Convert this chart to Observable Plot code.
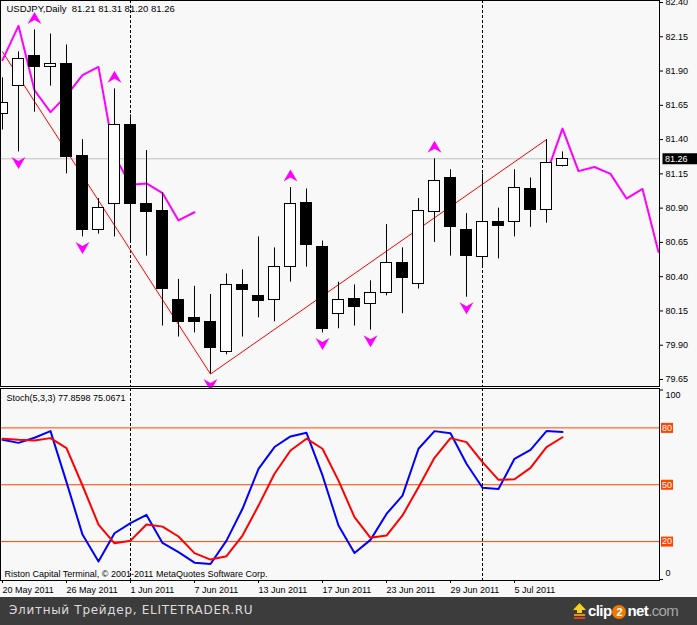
<!DOCTYPE html>
<html>
<head>
<meta charset="utf-8">
<script src="https://cdn.jsdelivr.net/npm/d3@7"></script>
<script src="https://cdn.jsdelivr.net/npm/@observablehq/plot@0.6"></script>
<style>
  html, body { margin: 0; padding: 0; background: #f8f8f8; }
  #wrap { position: relative; width: 697px; height: 625px; overflow: hidden; background: #f8f8f8; }
  #price, #stoch { display: block; }
  #footer { position: absolute; left: 0; top: 597px; width: 697px; height: 28px; background: #3c3c3c; }
  #ftext { position: absolute; left: 9px; top: 6px; color: #dcdcdc; font: 12px "DejaVu Sans", sans-serif; letter-spacing: 0.7px; white-space: nowrap; }
  #logo { position: absolute; left: 573px; top: 5px; font: bold 15px "Liberation Sans", Arial, sans-serif; color: #ffffff; letter-spacing: -0.6px; white-space: nowrap; }
  #logo svg { vertical-align: -3px; margin-right: 2px; }
  #two { display: inline-block; width: 14px; height: 14px; border-radius: 50%; background: #f07a00; text-align: center; line-height: 14px; font-size: 11px; letter-spacing: 0; margin: 0 1px; }
  #com { font-weight: normal; color: #a8a8a8; }
</style>
</head>
<body>
<div id="wrap">
  <div id="price"></div>
  <div id="stoch"></div>
  <div id="footer">
    <div id="ftext">Элитный Трейдер, ELITETRADER.RU</div>
    <div id="logo"><svg width="13" height="16" viewBox="0 0 13 16"><polygon points="6.5,0 13,7 9,7 9,10 4,10 4,7 0,7" fill="#f2d21b"/><rect x="1" y="11" width="11" height="2" fill="#f08a1a"/><rect x="1" y="14" width="11" height="2" fill="#e0401a"/></svg>clip<span id="two">2</span>net<span id="com">.com</span></div>
  </div>
</div>
<script>
// ---------- DATA ----------
const symbolName = "USDJPY";
const period = "Daily";
const dates = ["2011-05-20","2011-05-23","2011-05-24","2011-05-25","2011-05-26","2011-05-27","2011-05-30","2011-05-31",
  "2011-06-01","2011-06-02","2011-06-03","2011-06-06","2011-06-07","2011-06-08","2011-06-09","2011-06-10",
  "2011-06-13","2011-06-14","2011-06-15","2011-06-16","2011-06-17","2011-06-20","2011-06-21","2011-06-22",
  "2011-06-23","2011-06-24","2011-06-27","2011-06-28","2011-06-29","2011-06-30","2011-07-01","2011-07-04",
  "2011-07-05","2011-07-06","2011-07-07","2011-07-08"];
const opens  = [81.59,81.79,82.01,81.93,81.95,81.28,80.74,80.93,81.51,80.93,80.88,80.23,80.10,80.07,79.85,80.34,80.26,80.23,80.47,80.94,80.62,80.13,80.24,80.20,80.28,80.50,80.35,80.87,81.12,80.74,80.54,80.80,80.80,81.04,80.89,81.21];
const highs  = [81.85,82.04,82.20,82.17,82.09,81.40,80.97,81.77,81.58,81.32,81.01,80.38,80.33,80.27,80.42,80.45,80.69,80.61,81.05,81.04,80.66,80.36,80.34,80.37,80.78,80.61,80.97,81.26,81.18,80.86,81.15,80.90,81.18,81.12,81.40,81.31];
const lows   = [81.47,81.31,81.60,81.79,81.15,80.69,80.71,80.69,80.65,80.55,80.04,79.96,79.99,79.69,79.83,79.96,80.10,80.07,80.36,80.47,79.99,80.02,80.04,80.01,80.26,80.13,80.31,80.65,80.55,80.25,80.47,80.53,80.69,80.76,80.79,81.20];
const closes = [81.67,81.99,81.93,81.95,81.27,80.74,80.90,81.51,80.93,80.87,80.31,80.07,80.07,79.88,80.34,80.30,80.22,80.47,80.93,80.63,80.02,80.23,80.18,80.28,80.50,80.39,80.88,81.10,80.76,80.55,80.80,80.77,81.05,80.89,81.23,81.26];

// magenta indicator line (two visible segments, bar index -> value)
const magentaIdxA = [0,1,2,3,4,5,6,7,8,9,10,11,12];
const magentaValA = [81.98,82.23,81.76,81.60,81.72,81.87,81.93,81.28,81.07,81.08,81.01,80.81,80.87];
const magentaIdxB = [34,35,36,37,38,39,40,41];
const magentaValB = [81.15,81.48,81.17,81.20,81.15,80.97,81.04,80.58];

// red zigzag
const zigzagIdx = [0,13,34];
const zigzagVal = [82.04,79.69,81.40];

// fractal arrows (bar indices)
const upFractals = [2,7,18,27];
const downFractals = [1,5,13,20,23,29];

// period separators (bar indices: 1 Jun, 1 Jul)
const separators = [8,30];

// price axis ticks
const priceTicks = [82.40,82.15,81.90,81.65,81.40,81.15,80.90,80.65,80.40,80.15,79.90,79.65];

// stochastic (5,3,3)
const stochK = [73.7,72.1,74.8,78.3,51.4,23.7,9.5,24.4,29.7,34.1,19.3,14.4,8.9,8.2,20.5,37.3,58.4,69.9,75.5,77.4,54.9,28.5,14.0,20.9,34.6,44.3,69.0,78.3,77.2,61.1,48.4,47.8,63.7,68.4,78.3,77.8598];
const stochD = [74.3,73.7,73.4,74.6,69.3,49.6,29.0,19.1,20.5,29.0,27.9,22.7,13.9,10.5,12.3,23.2,39.0,55.8,68.1,74.3,69.0,52.2,32.9,22.0,23.2,33.8,48.7,64.2,74.6,72.5,61.9,52.6,52.9,58.9,69.9,75.0671];
const stochLevels = [80,50,20];

// date axis
const dateTickIdx = [0,4,8,12,16,20,24,28,32];
const dateTickLabels = ["20 May 2011","26 May 2011","1 Jun 2011","7 Jun 2011","13 Jun 2011","17 Jun 2011","23 Jun 2011","29 Jun 2011","5 Jul 2011"];

const copyright = "Riston Capital Terminal, © 2001-2011 MetaQuotes Software Corp.";

// ---------- TABLES ----------
const bars = dates.map((d, i) => ({i, date: d, open: opens[i], high: highs[i], low: lows[i], close: closes[i]}));
const magA = magentaIdxA.map((i, k) => ({i, v: magentaValA[k]}));
const magB = magentaIdxB.map((i, k) => ({i, v: magentaValB[k]}));
const zigzag = zigzagIdx.map((i, k) => ({i, v: zigzagVal[k]}));
const ups = upFractals.map(i => bars[i]);
const downs = downFractals.map(i => bars[i]);
const stoch = stochK.map((k, i) => ({i, k, d: stochD[i]}));
const dateTicks = dateTickIdx.map((i, k) => ({i, label: dateTickLabels[k]}));
const last = bars[bars.length - 1];
const titleText = `${symbolName},${period}  ${last.open.toFixed(2)} ${last.high.toFixed(2)} ${last.low.toFixed(2)} ${last.close.toFixed(2)}`;
const stochTitle = `Stoch(5,3,3) ${stochK[stochK.length-1].toFixed(4)} ${stochD[stochD.length-1].toFixed(4)}`;

// ---------- SYMBOLS ----------
const arrowUp = {draw(ctx) { ctx.moveTo(0,-6); ctx.lineTo(7,6); ctx.lineTo(0,2); ctx.lineTo(-7,6); ctx.closePath(); }};
const arrowDown = {draw(ctx) { ctx.moveTo(0,6); ctx.lineTo(7,-6); ctx.lineTo(0,-2); ctx.lineTo(-7,-6); ctx.closePath(); }};
const priceBox = {draw(ctx) { ctx.rect(-17.5,-5.5,36,11); }};
const levelBox = {draw(ctx) { ctx.rect(-6,-5,12,10); }};

const font = "'Liberation Sans', Arial, sans-serif";
const xScale = {domain: [0, 41], range: [2, 658]};

// ---------- PRICE PANEL ----------
const priceChart = Plot.plot({
  width: 697, height: 388,
  marginLeft: 0, marginRight: 38, marginTop: 0, marginBottom: 2,
  style: {background: "#f8f8f8", fontFamily: font, fontSize: "9px", color: "black"},
  x: {...xScale, axis: null},
  y: {domain: [79.65, 82.40], range: [379, 2], axis: "right", ticks: priceTicks,
      tickFormat: d => d.toFixed(2), tickSize: 3, tickPadding: 3, label: null},
  marks: [
    Plot.ruleX(separators, {x: d => d, stroke: "black", strokeDasharray: "3,2"}),
    Plot.ruleY([last.close], {y: d => d, stroke: "#c0c0c0"}),
    Plot.line(zigzag, {x: "i", y: "v", stroke: "#ff0000", strokeWidth: 1}),
    Plot.line(magA, {x: "i", y: "v", stroke: "#ff00ff", strokeWidth: 2}),
    Plot.line(magB, {x: "i", y: "v", stroke: "#ff00ff", strokeWidth: 2}),
    Plot.dot(ups, {x: "i", y: "high", symbol: arrowUp, fill: "#ff00ff", stroke: "none", dy: -12}),
    Plot.dot(downs, {x: "i", y: "low", symbol: arrowDown, fill: "#ff00ff", stroke: "none", dy: 11}),
    Plot.ruleX(bars, {x: "i", y1: "low", y2: "high", stroke: "black"}),
    Plot.rect(bars.filter(d => d.close >= d.open), {x1: d => d.i - 0.33, x2: d => d.i + 0.33, y1: "open", y2: "close", fill: "white", stroke: "black", shapeRendering: "crispEdges"}),
    Plot.rect(bars.filter(d => d.close < d.open), {x1: d => d.i - 0.33, x2: d => d.i + 0.33, y1: "open", y2: "close", fill: "black", stroke: "black", shapeRendering: "crispEdges"}),
    Plot.text([titleText], {text: d => d, frameAnchor: "top-left", dx: 6, dy: 8.5, lineAnchor: "middle", textAnchor: "start", fontSize: 9.5, fill: "black"}),
    Plot.dot([last.close], {y: d => d, frameAnchor: "right", dx: 20.5, symbol: priceBox, fill: "black", stroke: "none"}),
    Plot.text([last.close], {y: d => d, text: d => d.toFixed(2), frameAnchor: "right", dx: 5.5, textAnchor: "start", fill: "white"}),
    Plot.frame({stroke: "black", shapeRendering: "crispEdges"})
  ]
});
document.getElementById("price").appendChild(priceChart);

// ---------- STOCHASTIC PANEL ----------
const stochChart = Plot.plot({
  width: 697, height: 209,
  marginLeft: 0, marginRight: 38, marginTop: 0, marginBottom: 17,
  style: {background: "#f8f8f8", fontFamily: font, fontSize: "9px", color: "black"},
  x: {...xScale, axis: "bottom", ticks: dateTickIdx, tickFormat: () => "", tickSize: 3, label: null},
  y: {domain: [0, 100], range: [191, 1.5], axis: "right", ticks: [0, 100], tickFormat: () => "", tickSize: 3, label: null},
  marks: [
    Plot.ruleY(stochLevels, {y: d => d, stroke: "#ff4500"}),
    Plot.ruleX(separators, {x: d => d, stroke: "black", strokeDasharray: "3,2"}),
    Plot.line(stoch, {x: "i", y: "k", stroke: "#0000ff", strokeWidth: 2}),
    Plot.line(stoch, {x: "i", y: "d", stroke: "#ff0000", strokeWidth: 2}),
    Plot.text([stochTitle], {text: d => d, frameAnchor: "top-left", dx: 6, dy: 10, lineAnchor: "middle", textAnchor: "start", fill: "black"}),
    Plot.text([copyright], {text: d => d, frameAnchor: "bottom-left", dx: 4, dy: -6.5, lineAnchor: "middle", textAnchor: "start", fill: "black"}),
    Plot.dot(stochLevels, {y: d => d, frameAnchor: "right", dx: 7.5, symbol: levelBox, fill: "#ff4500", stroke: "none"}),
    Plot.text(stochLevels, {y: d => d, text: d => String(d), frameAnchor: "right", dx: 7.5, textAnchor: "middle", fill: "white"}),
    Plot.text([100], {y: d => d, text: d => String(d), frameAnchor: "right", dx: 6, dy: 5, textAnchor: "start", fill: "black"}),
    Plot.text([0], {y: d => d, text: d => String(d), frameAnchor: "right", dx: 6, dy: -6, textAnchor: "start", fill: "black"}),
    Plot.text(dateTicks, {x: "i", text: "label", frameAnchor: "bottom", dy: 9.5, lineAnchor: "middle", textAnchor: "start", fill: "black"}),
    Plot.frame({stroke: "black", shapeRendering: "crispEdges"})
  ]
});
document.getElementById("stoch").appendChild(stochChart);
</script>
</body>
</html>
